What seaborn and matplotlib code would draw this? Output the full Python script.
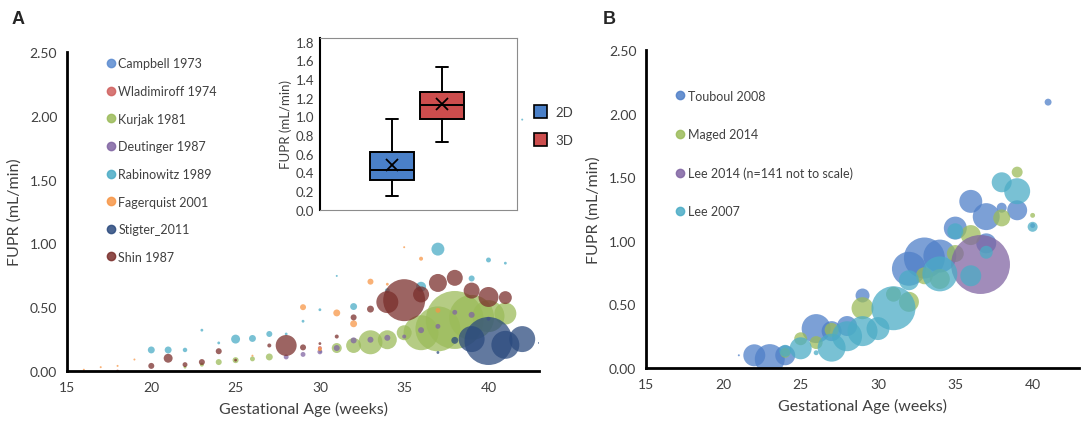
import numpy as np
import pandas as pd
import matplotlib
matplotlib.use("Agg")
import matplotlib.pyplot as plt
from matplotlib.lines import Line2D
from matplotlib.patches import Patch
import seaborn as sns

sns.set_style("white")
plt.rcParams['font.family'] = ['Lato', 'DejaVu Sans']

# ---- panel A : studies (week, FUPR, sample size) ----
studies_a = ["Campbell 1973", "Wladimiroff 1974", "Kurjak 1981", "Deutinger 1987",
             "Rabinowitz 1989", "Fagerquist 2001", "Stigter_2011", "Shin 1987"]
colors_a = ["#5B8BD0", "#D0605E", "#9BBB59", "#8064A2",
            "#4BACC6", "#F79646", "#2B4A7E", "#7A2E2B"]

campbell_wk = [30]
campbell_fupr = [0.16]
campbell_n = [2]

wladimiroff_wk = [18, 30]
wladimiroff_fupr = [0.0, 0.18]
wladimiroff_n = [2, 4]

kurjak_wk = [22, 23, 24, 25, 26, 27, 31, 32, 33, 34, 35, 36, 37, 38, 39, 40, 41]
kurjak_fupr = [0.03, 0.05, 0.07, 0.085, 0.095, 0.11, 0.18, 0.20, 0.225, 0.245,
               0.30, 0.30, 0.33, 0.40, 0.42, 0.43, 0.45]
kurjak_n = [2, 4, 9, 9, 6, 12, 25, 56, 144, 90, 56, 306, 506, 841, 506, 256, 121]

deutinger_wk = [28, 29, 30, 31, 32, 33, 34, 35, 36, 37, 38, 39, 40]
deutinger_fupr = [0.11, 0.13, 0.15, 0.18, 0.24, 0.245, 0.26, 0.27, 0.32, 0.35, 0.46, 0.44, 0.41]
deutinger_n = [6, 6, 6, 9, 9, 9, 9, 4, 9, 6, 6, 9, 4]

rabinowitz_wk = [20, 21, 22, 23, 24, 25, 26, 27, 28, 29, 30, 31, 32, 34, 36, 37, 39, 40, 41, 42]
rabinowitz_fupr = [0.165, 0.165, 0.165, 0.32, 0.22, 0.25, 0.255, 0.29, 0.29, 0.39, 0.48,
                   0.745, 0.505, 0.63, 0.66, 0.955, 0.725, 0.87, 0.845, 1.97]
rabinowitz_n = [12, 12, 5, 2, 2, 20, 12, 9, 2, 2, 2, 1, 12, 6, 25, 42, 9, 6, 2, 1]

fagerquist_wk = [16, 17, 18, 19, 26, 29, 30, 31, 32, 33, 34, 35, 36, 37]
fagerquist_fupr = [0.01, 0.03, 0.04, 0.09, 0.12, 0.50, 0.17, 0.455, 0.37, 0.70, 0.68, 0.97, 0.88, 0.475]
fagerquist_n = [1, 1, 1, 1, 1, 9, 4, 12, 12, 9, 2, 1, 4, 6]

stigter_wk = [37, 38, 39, 40, 41, 42, 43]
stigter_fupr = [0.145, 0.24, 0.25, 0.235, 0.205, 0.25, 0.22]
stigter_n = [2, 12, 169, 576, 196, 169, 1]

shin_wk = [20, 21, 22, 23, 24, 25, 27, 28, 29, 30, 31, 32, 33, 34, 35, 36, 37, 38, 39, 40, 41]
shin_fupr = [0.04, 0.10, 0.05, 0.07, 0.155, 0.085, 0.20, 0.20, 0.185, 0.215, 0.27, 0.42,
             0.485, 0.54, 0.555, 0.60, 0.69, 0.73, 0.63, 0.58, 0.575]
shin_n = [9, 20, 6, 9, 9, 2, 4, 110, 9, 2, 4, 9, 12, 121, 441, 64, 81, 64, 64, 100, 42]

# ---- panel B ----
studies_b = ["Touboul 2008", "Maged 2014", "Lee 2014 (n=141 not to scale)", "Lee 2007"]
colors_b = ["#4F7FC8", "#9BBB59", "#8064A2", "#4BACC6"]

touboul_wk = [21, 22, 23, 24, 26, 27, 28, 29, 32, 33, 34, 35, 36, 37, 37, 38, 39, 40, 41]
touboul_fupr = [0.10, 0.10, 0.07, 0.10, 0.31, 0.29, 0.33, 0.57, 0.78, 0.865, 0.88, 1.10,
                1.31, 1.19, 0.98, 1.26, 1.24, 1.12, 2.09]
touboul_n = [1, 121, 225, 100, 210, 100, 100, 49, 289, 420, 272, 132, 132, 182, 100, 25, 100, 6, 12]

maged_wk = [24, 25, 26, 27, 29, 31, 32, 33, 34, 35, 36, 38, 39, 40]
maged_fupr = [0.12, 0.23, 0.20, 0.30, 0.47, 0.58, 0.52, 0.725, 0.70, 0.90, 1.045, 1.18, 1.54, 1.20]
maged_n = [25, 42, 42, 49, 121, 56, 100, 72, 100, 72, 100, 72, 30, 6]

lee2014_wk = [36.6]
lee2014_fupr = [0.82]
lee2014_n = [870]

lee2007_wk = [24, 25, 26, 27, 28, 29, 30, 31, 32, 34, 35, 36, 37, 38, 39, 40]
lee2007_fupr = [0.135, 0.155, 0.12, 0.16, 0.25, 0.29, 0.31, 0.47, 0.69, 0.74, 1.075,
                0.725, 0.91, 1.46, 1.39, 1.11]
lee2007_n = [36, 121, 6, 196, 225, 225, 132, 484, 100, 306, 64, 110, 42, 100, 169, 25]

# ---- inset box plot (2D vs 3D) ----
box_labels = ["2D", "3D"]
box_q1 = [0.32, 0.97]
box_med = [0.42, 1.12]
box_q3 = [0.62, 1.26]
box_lo = [0.15, 0.72]
box_hi = [0.97, 1.53]
box_mean = [0.48, 1.13]
box_colors = ["#4A80C8", "#CC4D4D"]


def build(names, parts):
    frames = []
    for name, (wk, fu, n) in zip(names, parts):
        frames.append(pd.DataFrame({"week": wk, "fupr": fu, "n": n, "study": name}))
    return pd.concat(frames, ignore_index=True)


df_a = build(studies_a, [(campbell_wk, campbell_fupr, campbell_n),
                         (wladimiroff_wk, wladimiroff_fupr, wladimiroff_n),
                         (kurjak_wk, kurjak_fupr, kurjak_n),
                         (deutinger_wk, deutinger_fupr, deutinger_n),
                         (rabinowitz_wk, rabinowitz_fupr, rabinowitz_n),
                         (fagerquist_wk, fagerquist_fupr, fagerquist_n),
                         (stigter_wk, stigter_fupr, stigter_n),
                         (shin_wk, shin_fupr, shin_n)])
df_b = build(studies_b, [(touboul_wk, touboul_fupr, touboul_n),
                         (maged_wk, maged_fupr, maged_n),
                         (lee2014_wk, lee2014_fupr, lee2014_n),
                         (lee2007_wk, lee2007_fupr, lee2007_n)])

K = 2.07  # area in pt^2 per unit of n
txt = "#404040"

fig = plt.figure(figsize=(10.84, 4.27), dpi=100)
ax_a = fig.add_axes([0.0618, 0.1288, 0.4355, 0.7472])
ax_b = fig.add_axes([0.596, 0.1358, 0.3994, 0.7448])


def bubble(ax, df, names, cols):
    nmax = df["n"].max()
    for name, c in zip(names, cols):
        sub = df[df["study"] == name]
        sns.scatterplot(data=sub, x="week", y="fupr", size="n", sizes=(0, K * nmax),
                        size_norm=(0, nmax), color=c, alpha=0.74, linewidth=0,
                        legend=False, ax=ax)


def style_axis(ax):
    ax.set_xlim(15, 43)
    ax.set_ylim(0, 2.5)
    ax.set_xticks([15, 20, 25, 30, 35, 40])
    ax.set_yticks([0, 0.5, 1.0, 1.5, 2.0, 2.5])
    ax.set_yticklabels(["%.2f" % v for v in [0, 0.5, 1.0, 1.5, 2.0, 2.5]])
    for s in ["top", "right"]:
        ax.spines[s].set_visible(False)
    for s in ["left", "bottom"]:
        ax.spines[s].set_linewidth(2)
        ax.spines[s].set_color("black")
    ax.tick_params(direction="inout", length=6, width=2, color="black",
                   labelsize=10, labelcolor=txt, pad=4)
    ax.set_xlabel("Gestational Age (weeks)", fontsize=11.5, color=txt, labelpad=6)
    ax.set_ylabel("FUPR (mL/min)", fontsize=11.5, color=txt, labelpad=6)


bubble(ax_a, df_a, studies_a, colors_a)
style_axis(ax_a)
bubble(ax_b, df_b, studies_b, colors_b)
style_axis(ax_b)

h_a = [Line2D([], [], marker="o", ls="", color=c, alpha=0.85, markersize=6, label=s)
       for s, c in zip(studies_a, colors_a)]
ax_a.legend(handles=h_a, loc="upper left", bbox_to_anchor=(0.056, 1.018), frameon=False,
            fontsize=9, labelspacing=1.25, handletextpad=0.1, handlelength=1.0,
            labelcolor=txt)
h_b = [Line2D([], [], marker="o", ls="", color=c, alpha=0.85, markersize=6, label=s)
       for s, c in zip(studies_b, colors_b)]
ax_b.legend(handles=h_b, loc="upper left", bbox_to_anchor=(0.039, 0.91), frameon=False,
            fontsize=9, labelspacing=2.1, handletextpad=0.1, handlelength=1.0,
            labelcolor=txt)

# inset
ax_in = fig.add_axes([0.2952, 0.5066, 0.1818, 0.4021])
stats = [dict(label=l, q1=a, med=m, q3=b, whislo=lo, whishi=hi, mean=mu, fliers=[])
         for l, a, m, b, lo, hi, mu in zip(box_labels, box_q1, box_med, box_q3,
                                           box_lo, box_hi, box_mean)]
bp = ax_in.bxp(stats, positions=[0, 1], widths=0.88, capwidths=0.25, patch_artist=True,
               showmeans=True,
               meanprops=dict(marker="x", markeredgecolor="black", markersize=8, markeredgewidth=1.3),
               medianprops=dict(color="black", linewidth=1.4),
               whiskerprops=dict(color="black", linewidth=1.4),
               capprops=dict(color="black", linewidth=1.4),
               boxprops=dict(edgecolor="black", linewidth=1.4))
for patch, c in zip(bp["boxes"], box_colors):
    patch.set_facecolor(c)
ax_in.set_xlim(-1.44, 2.5)
ax_in.set_ylim(0, 1.84)
ax_in.set_yticks(np.arange(0, 1.81, 0.2))
ax_in.set_yticklabels(["%.1f" % v for v in np.arange(0, 1.81, 0.2)])
ax_in.set_xticks([])
for s in ["top", "right", "bottom"]:
    ax_in.spines[s].set_color("#8c8c8c")
    ax_in.spines[s].set_linewidth(0.8)
ax_in.spines["left"].set_color("black")
ax_in.spines["left"].set_linewidth(1.5)
ax_in.tick_params(axis="y", direction="inout", length=4, width=1.3, labelsize=9.5,
                  labelcolor=txt, pad=2)
ax_in.set_ylabel("FUPR (mL/min)", fontsize=9.5, color=txt, labelpad=3)
h_box = [Patch(facecolor=c, edgecolor="black", linewidth=1.2, label=l)
         for l, c in zip(box_labels, box_colors)]
ax_in.legend(handles=h_box, loc="center left", bbox_to_anchor=(1.025, 0.49), frameon=False,
             fontsize=9.5, handlelength=1.0, handleheight=1.2, labelspacing=1.1,
             handletextpad=0.6, labelcolor=txt)

fig.text(0.011, 0.975, "A", fontsize=13, fontweight="bold", va="top",
         family=["Liberation Sans", "DejaVu Sans"])
fig.text(0.556, 0.975, "B", fontsize=13, fontweight="bold", va="top",
         family=["Liberation Sans", "DejaVu Sans"])

fig.savefig("out.png", dpi=100)
